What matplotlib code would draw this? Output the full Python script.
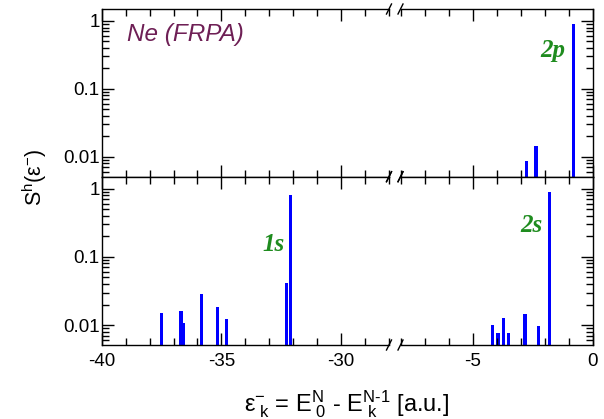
import matplotlib
matplotlib.use("Agg")
import matplotlib.pyplot as plt
from matplotlib.lines import Line2D
from matplotlib.ticker import FixedLocator, LogLocator, NullFormatter, FuncFormatter, MultipleLocator

# ---- data ----
e_top = [-2.75, -2.36, -0.79]
s_top = [0.0087, 0.0144, 0.915]
e_bot = [-37.51, -36.69, -36.57, -35.84, -35.18, -34.79, -32.29, -32.10,
         -4.16, -3.94, -3.72, -3.51, -2.82, -2.26, -1.80]
s_bot = [0.0149, 0.0162, 0.0108, 0.0283, 0.0186, 0.0121, 0.0419, 0.796,
         0.0099, 0.0077, 0.0128, 0.0076, 0.0145, 0.0097, 0.89]
xticks_left = [-40, -35, -30]
xticks_right = [-5, 0]
yticks = [0.01, 0.1, 1]
ytick_labels = ["0.01", "0.1", "1"]
orbital_labels = [("2p", -1.64, 0.292, 0), ("1s", -32.83, 0.12, 1), ("2s", -2.53, 0.2355, 1)]

plt.rcParams['font.family'] = ['Liberation Sans', 'DejaVu Sans']
plt.rcParams['axes.unicode_minus'] = False
plt.rcParams['mathtext.fontset'] = 'custom'
plt.rcParams['mathtext.rm'] = 'Liberation Sans'
plt.rcParams['mathtext.it'] = 'Liberation Sans:italic'
plt.rcParams['mathtext.bf'] = 'Liberation Sans:bold'
plt.rcParams['mathtext.default'] = 'regular'

W, H = 604, 419
fig = plt.figure(figsize=(W / 100, H / 100), dpi=100)

def fx(px):
    return px / W

def fy(py):
    return 1 - py / H

xl0, xl1 = 101.7, 389.0
xr0, xr1 = 400.5, 592.7
rows = [(9.0, 176.7), (176.7, 345.0)]
ylim = (0.0051, 1.5)
blue = '#0000ff'
green = '#1f8c1f'

axes = []
for r, (yt, yb) in enumerate(rows):
    axL = fig.add_axes([fx(xl0), fy(yb), fx(xl1 - xl0), (yb - yt) / H])
    axR = fig.add_axes([fx(xr0), fy(yb), fx(xr1 - xr0), (yb - yt) / H])
    axes.append((axL, axR))
    e = e_top if r == 0 else e_bot
    s = s_top if r == 0 else s_bot
    for ax, xlim in ((axL, (-40, -28)), (axR, (-8, 0))):
        ax.bar(e, [v - 1e-4 for v in s], bottom=1e-4, width=0.13, color=blue, linewidth=0)
        ax.set_xlim(*xlim)
        ax.set_yscale('log')
        ax.set_ylim(*ylim)
        ax.xaxis.set_minor_locator(MultipleLocator(1))
        ax.yaxis.set_major_locator(FixedLocator(yticks))
        ax.yaxis.set_minor_locator(LogLocator(base=10, subs=range(2, 10)))
        ax.yaxis.set_minor_formatter(NullFormatter())
        ax.tick_params(which='major', direction='in', length=8.5, width=1.0, top=True, bottom=True)
        ax.tick_params(which='minor', direction='in', length=4.8, width=1.0, top=True, bottom=True)
        for sp in ax.spines.values():
            sp.set_linewidth(1.0)
    axL.set_xticks(xticks_left)
    axR.set_xticks(xticks_right)
    axL.spines['right'].set_visible(False)
    axR.spines['left'].set_visible(False)
    axL.tick_params(which='both', left=True, right=False)
    axR.tick_params(which='both', left=False, right=True, labelleft=False)
    axL.yaxis.set_major_formatter(FuncFormatter(lambda v, p: ytick_labels[yticks.index(min(yticks, key=lambda t: abs(t - v)))]))
    axL.tick_params(axis='y', labelsize=13.5, pad=1.5)
    if r == 0:
        axL.tick_params(labelbottom=False)
        axR.tick_params(labelbottom=False)
    else:
        axL.tick_params(axis='x', labelsize=13.5, pad=6)
        axR.tick_params(axis='x', labelsize=13.5, pad=6)

# break marks
for (yt, yb) in rows:
    for yy in (yt, yb):
        for xx in (xl1, xr0):
            fig.add_artist(Line2D([fx(xx - 2.5), fx(xx + 2.5)], [fy(yy + 5), fy(yy - 5)],
                                  transform=fig.transFigure, color='black', lw=1.0))

# texts
axes[0][0].text(0.087, 0.845, 'Ne (FRPA)', transform=axes[0][0].transAxes, fontsize=17.5,
                style='italic', color='#6e1f55', ha='left', va='center')
for lab, xv, yv, r in orbital_labels:
    ax = axes[r][0] if xv < -20 else axes[r][1]
    ax.text(xv, yv, lab, fontsize=18, family='Liberation Serif', style='italic',
            weight='bold', color=green, ha='center', va='baseline')

fig.text(fx(35), fy(177), r'S$^{h}$(ε$^{-}$)', rotation=90, ha='center', va='center', fontsize=15.5)
fig.text(fx(347), fy(404), r'ε$^{-}_{\ k}$ = E$^{N}_{\ 0}$ - E$^{\text{N-1}}_{\ k}$ [a.u.]',
         ha='center', va='center', fontsize=17)

fig.savefig('out.png', dpi=100)
